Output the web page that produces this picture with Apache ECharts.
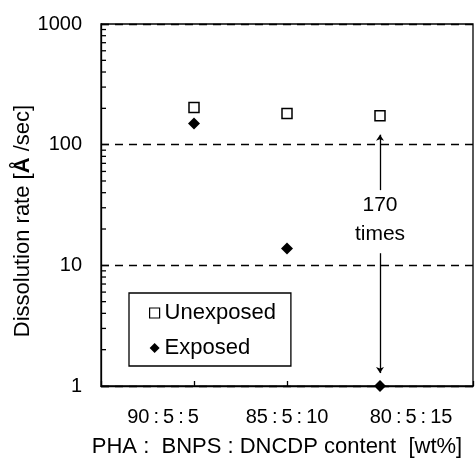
<!DOCTYPE html>
<html>
<head>
<meta charset="utf-8">
<script src="https://cdn.jsdelivr.net/npm/echarts@6/dist/echarts.min.js"></script>
<style>
  html, body { margin: 0; padding: 0; background: #fff; }
  #chart { width: 476px; height: 462px; }
</style>
</head>
<body>
<div id="chart"></div>
<script>
// label bands (category axis) and point positions (x = 1, 2, 3 on a 0..4 axis)
const categories = ["90\u2009:\u20095\u2009:\u20095", "85\u2009:\u20095\u2009:\u200910", "80\u2009:\u20095\u2009:\u200915"];
const unexposed = [203, 181, 174];
const exposed = [150, 13.8, 1];

// log minor ticks (2..9 of each decade)
const minorTickValues = [2, 3, 4, 5, 6, 7, 8, 9, 20, 30, 40, 50, 60, 70, 80, 90, 200, 300, 400, 500, 600, 700, 800, 900];

// "170 times" annotation at the third composition
const arrowUpper = [121, 42];
const arrowLower = [12.6, 1.28];
const noteValue = 23.7;
const noteText = "170\ntimes";

const FONT = "Liberation Sans";
const chart = echarts.init(document.getElementById("chart"), null, { renderer: "canvas" });

const option = {
  animation: false,
  backgroundColor: "#fff",
  textStyle: { fontFamily: FONT, color: "#000" },
  grid: {
    left: 101, right: 3, top: 24, bottom: 76,
    outerBoundsMode: "none",
    containLabel: false,
    show: true, borderColor: "#000", borderWidth: 1.3
  },
  legend: {
    left: 129, top: 293,
    orient: "vertical",
    padding: [9, 15, 7, 20],
    itemGap: 13,
    itemWidth: 10, itemHeight: 10,
    itemTextGap: 12,
    borderColor: "#000", borderWidth: 1.3,
    textStyle: { fontFamily: FONT, fontSize: 22, color: "#000" },
    data: [
      { name: "Unexposed", icon: "rect", itemStyle: { color: "#fff", borderColor: "#000", borderWidth: 1.2, opacity: 1 } },
      { name: "Exposed", icon: "diamond", itemStyle: { color: "#000", borderWidth: 0, opacity: 1 } }
    ]
  },
  xAxis: [
    {
      type: "value",
      min: 0, max: 4, interval: 1,
      name: "PHA :  BNPS : DNCDP content  [wt%]",
      nameLocation: "middle",
      nameGap: 50,
      nameTextStyle: { fontFamily: FONT, fontSize: 22, color: "#000", padding: [0, 20, 0, 0] },
      axisLine: { show: true, lineStyle: { color: "#000", width: 1.3 } },
      axisTick: { show: true, inside: true, length: 5, lineStyle: { color: "#000", width: 1.3 } },
      axisLabel: { show: false },
      splitLine: { show: false }
    },
    {
      type: "category",
      data: categories,
      position: "bottom",
      boundaryGap: true,
      axisLine: { show: false },
      axisTick: { show: false },
      axisLabel: { fontFamily: FONT, fontSize: 20, color: "#000", margin: 21 },
      splitLine: { show: false }
    }
  ],
  yAxis: {
    type: "log",
    logBase: 10,
    min: 1, max: 1000,
    name: "Dissolution rate [{b|Å} /sec]",
    nameLocation: "middle",
    nameMoveOverlap: false,
    nameGap: 67,
    nameTextStyle: {
      fontFamily: FONT, fontSize: 22, color: "#000", padding: [0, 32, 0, 0],
      rich: { b: { fontFamily: FONT, fontSize: 22, fontWeight: "bold", color: "#000" } }
    },
    axisLine: { show: true, lineStyle: { color: "#000", width: 1.3 } },
    axisTick: { show: true, inside: true, length: 8, lineStyle: { color: "#000", width: 1.3 } },
    axisLabel: { fontFamily: FONT, fontSize: 20, color: "#000", margin: 19, formatter: v => String(v) },
    splitLine: { show: true, lineStyle: { color: "#000", width: 1.3, type: [8, 6] } }
  },
  series: [
    {
      name: "minor",
      type: "scatter",
      silent: true,
      clip: false,
      symbol: "rect",
      symbolSize: [5, 1.3],
      symbolOffset: [2.5, 0],
      itemStyle: { color: "#000", opacity: 1 },
      data: minorTickValues.map(v => [0, v]),
      z: 3
    },
    {
      name: "Unexposed",
      type: "scatter",
      symbol: "rect",
      symbolSize: 10,
      itemStyle: { color: "#fff", borderColor: "#000", borderWidth: 1.5, opacity: 1 },
      data: unexposed.map((v, i) => [i + 1, v]),
      z: 5
    },
    {
      name: "Exposed",
      type: "scatter",
      symbol: "diamond",
      symbolSize: 12,
      clip: false,
      itemStyle: { color: "#000", opacity: 1 },
      data: exposed.map((v, i) => [i + 1, v]),
      z: 5
    },
    {
      name: "note",
      type: "scatter",
      silent: true,
      symbolSize: 0,
      itemStyle: { opacity: 1 },
      data: [[3, noteValue]],
      label: {
        show: true, position: "inside",
        formatter: noteText,
        fontFamily: FONT, fontSize: 21, color: "#000", lineHeight: 29
      },
      markLine: {
        silent: true,
        symbolSize: 6,
        label: { show: false },
        lineStyle: { color: "#000", width: 1.3, type: "solid", opacity: 1 },
        data: [
          [{ coord: [3, arrowUpper[0]], symbol: "arrow" }, { coord: [3, arrowUpper[1]], symbol: "none" }],
          [{ coord: [3, arrowLower[0]], symbol: "none" }, { coord: [3, arrowLower[1]], symbol: "arrow" }]
        ]
      },
      z: 4
    }
  ]
};

chart.setOption(option);
</script>
</body>
</html>
